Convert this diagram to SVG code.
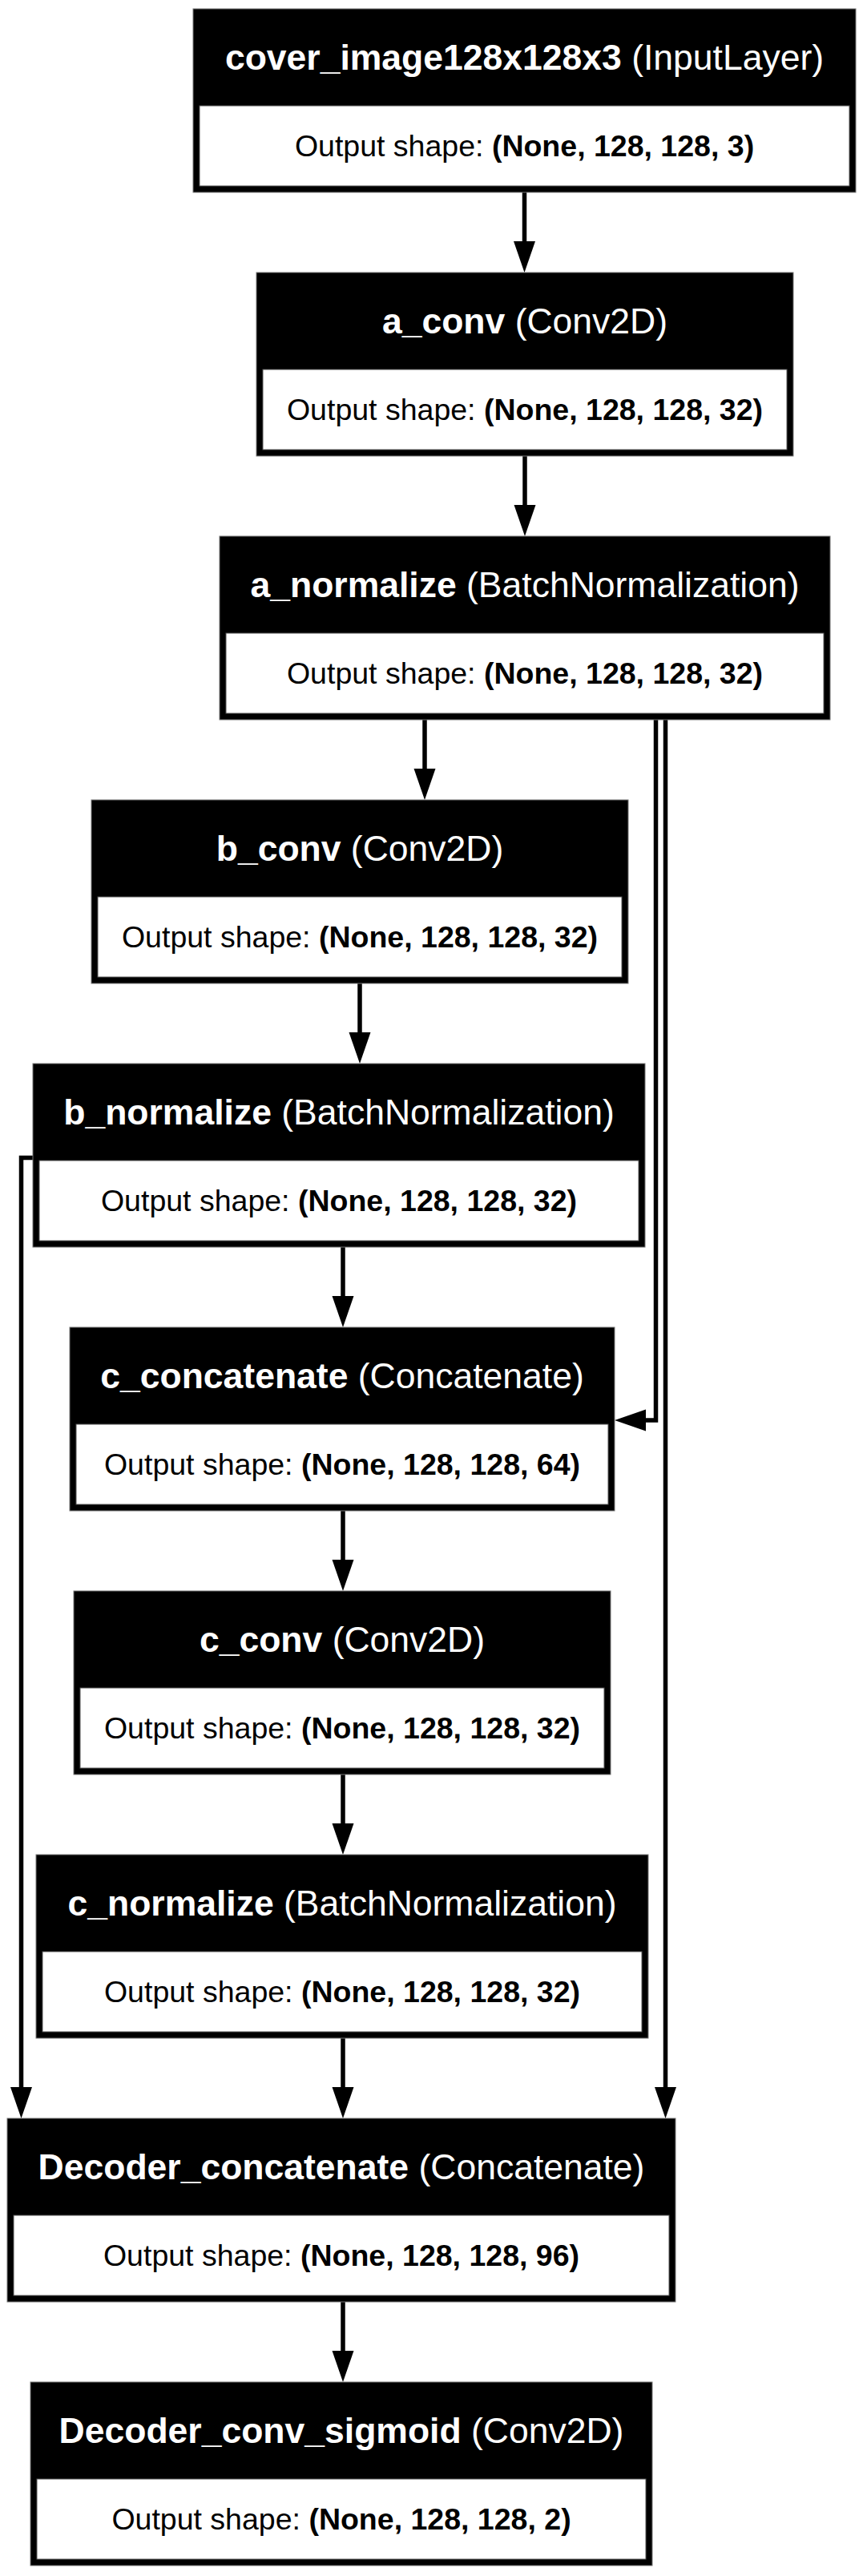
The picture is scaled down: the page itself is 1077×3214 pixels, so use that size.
<svg xmlns="http://www.w3.org/2000/svg" width="1077" height="3214" viewBox="0 0 1077 3214">
<defs>
<style>
.hd{font-family:"Liberation Sans",Arial,Helvetica,sans-serif;font-size:44.5px;fill:#fff;text-anchor:middle}
.bd{font-family:"Liberation Sans",Arial,Helvetica,sans-serif;font-size:37.5px;fill:#000;text-anchor:middle}
.b{font-weight:bold}
.outer{fill:#000;stroke:#777;stroke-width:1}
.cell{fill:#fff;stroke:#555;stroke-width:1}
.edge{fill:none;stroke:#000;stroke-width:5.5}
</style>
<marker id="ah" markerUnits="userSpaceOnUse" markerWidth="40" markerHeight="28" refX="0" refY="13.5" orient="auto" viewBox="0 0 40 28">
<path d="M0,0 L39,13.5 L0,27 Z" fill="#000"/>
</marker>
</defs>
<rect width="1077" height="3214" fill="#fff"/>
<g id="connectors">
<path class="edge" marker-end="url(#ah)" d="M654.5,240 V301"/>
<path class="edge" marker-end="url(#ah)" d="M655,569 V630"/>
<path class="edge" marker-end="url(#ah)" d="M530,898 V959"/>
<path class="edge" marker-end="url(#ah)" d="M818.5,898 V1772 H806"/>
<path class="edge" marker-end="url(#ah)" d="M830.5,898 V2604"/>
<path class="edge" marker-end="url(#ah)" d="M449,1227 V1288"/>
<path class="edge" marker-end="url(#ah)" d="M41,1444.5 H26.5 V2604"/>
<path class="edge" marker-end="url(#ah)" d="M428,1556 V1617"/>
<path class="edge" marker-end="url(#ah)" d="M428,1885 V1946"/>
<path class="edge" marker-end="url(#ah)" d="M428,2214 V2275"/>
<path class="edge" marker-end="url(#ah)" d="M428,2543 V2604"/>
<path class="edge" marker-end="url(#ah)" d="M428,2872 V2933"/>
</g>
<g id="cover_image">
<rect class="outer" x="241" y="11" width="827" height="229"/>
<rect class="cell" x="249" y="132" width="811" height="100"/>
<text class="hd" x="654.5" y="87"><tspan class="b">cover_image128x128x3</tspan> (InputLayer)</text>
<text class="bd" x="654.5" y="195">Output shape: <tspan class="b">(None, 128, 128, 3)</tspan></text>
</g>
<g id="a_conv">
<rect class="outer" x="320" y="340" width="670" height="229"/>
<rect class="cell" x="328" y="461" width="654" height="100"/>
<text class="hd" x="655" y="416"><tspan class="b">a_conv</tspan> (Conv2D)</text>
<text class="bd" x="655" y="524">Output shape: <tspan class="b">(None, 128, 128, 32)</tspan></text>
</g>
<g id="a_normalize">
<rect class="outer" x="274" y="669" width="762" height="229"/>
<rect class="cell" x="282" y="790" width="746" height="100"/>
<text class="hd" x="655" y="745"><tspan class="b">a_normalize</tspan> (BatchNormalization)</text>
<text class="bd" x="655" y="853">Output shape: <tspan class="b">(None, 128, 128, 32)</tspan></text>
</g>
<g id="b_conv">
<rect class="outer" x="114" y="998" width="670" height="229"/>
<rect class="cell" x="122" y="1119" width="654" height="100"/>
<text class="hd" x="449" y="1074"><tspan class="b">b_conv</tspan> (Conv2D)</text>
<text class="bd" x="449" y="1182">Output shape: <tspan class="b">(None, 128, 128, 32)</tspan></text>
</g>
<g id="b_normalize">
<rect class="outer" x="41" y="1327" width="764" height="229"/>
<rect class="cell" x="49" y="1448" width="748" height="100"/>
<text class="hd" x="423" y="1403"><tspan class="b">b_normalize</tspan> (BatchNormalization)</text>
<text class="bd" x="423" y="1511">Output shape: <tspan class="b">(None, 128, 128, 32)</tspan></text>
</g>
<g id="c_concatenate">
<rect class="outer" x="87" y="1656" width="680" height="229"/>
<rect class="cell" x="95" y="1777" width="664" height="100"/>
<text class="hd" x="427" y="1732"><tspan class="b">c_concatenate</tspan> (Concatenate)</text>
<text class="bd" x="427" y="1840">Output shape: <tspan class="b">(None, 128, 128, 64)</tspan></text>
</g>
<g id="c_conv">
<rect class="outer" x="92" y="1985" width="670" height="229"/>
<rect class="cell" x="100" y="2106" width="654" height="100"/>
<text class="hd" x="427" y="2061"><tspan class="b">c_conv</tspan> (Conv2D)</text>
<text class="bd" x="427" y="2169">Output shape: <tspan class="b">(None, 128, 128, 32)</tspan></text>
</g>
<g id="c_normalize">
<rect class="outer" x="45" y="2314" width="764" height="229"/>
<rect class="cell" x="53" y="2435" width="748" height="100"/>
<text class="hd" x="427" y="2390"><tspan class="b">c_normalize</tspan> (BatchNormalization)</text>
<text class="bd" x="427" y="2498">Output shape: <tspan class="b">(None, 128, 128, 32)</tspan></text>
</g>
<g id="Decoder_concatenate">
<rect class="outer" x="9" y="2643" width="834" height="229"/>
<rect class="cell" x="17" y="2764" width="818" height="100"/>
<text class="hd" x="426" y="2719"><tspan class="b">Decoder_concatenate</tspan> (Concatenate)</text>
<text class="bd" x="426" y="2827">Output shape: <tspan class="b">(None, 128, 128, 96)</tspan></text>
</g>
<g id="Decoder_conv_sigmoid">
<rect class="outer" x="38" y="2972" width="776" height="229"/>
<rect class="cell" x="46" y="3093" width="760" height="100"/>
<text class="hd" x="426" y="3048"><tspan class="b">Decoder_conv_sigmoid</tspan> (Conv2D)</text>
<text class="bd" x="426" y="3156">Output shape: <tspan class="b">(None, 128, 128, 2)</tspan></text>
</g>
</svg>
